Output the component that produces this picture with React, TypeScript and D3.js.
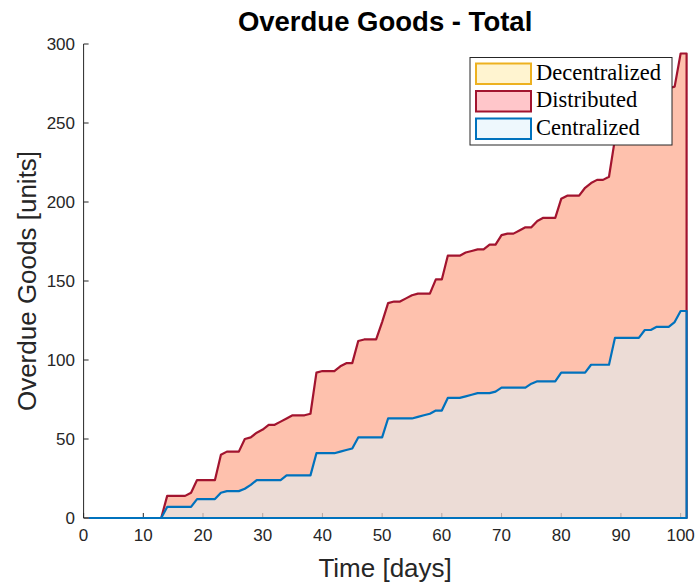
import React from "react";
import * as d3 from "d3";

// Values per day (day 1 .. 101)
const distributed: number[] = [
  0, 0, 0, 0, 0, 0, 0, 0, 0, 0, 0, 0, 0, 14, 14, 14, 14, 16, 24, 24,
  24, 24, 40, 42, 42, 42, 50, 51, 54, 56, 59, 59, 61, 63, 65, 65, 65, 66, 92, 93,
  93, 93, 96, 98, 98, 112, 113, 113, 113, 124, 136, 137, 137, 139, 141, 142, 142, 142, 151, 151,
  166, 166, 166, 168, 169, 170, 170, 173, 173, 179, 180, 180, 182, 184, 184, 188, 190, 190, 190, 202,
  204, 204, 204, 209, 212, 214, 214, 216, 240, 247, 252, 255, 258, 261, 264, 267, 270, 272, 273, 294,
  294,
];
const centralized: number[] = [
  0, 0, 0, 0, 0, 0, 0, 0, 0, 0, 0, 0, 0, 7, 7, 7, 7, 7, 12, 12,
  12, 12, 16, 17, 17, 17, 18.5, 21, 24, 24, 24, 24, 24, 27, 27, 27, 27, 27, 41, 41,
  41, 41, 42, 43, 44, 51, 51, 51, 51, 51, 63, 63, 63, 63, 63, 64, 65, 66, 68, 68,
  76, 76, 76, 77, 78, 79, 79, 79, 80, 82.5, 82.5, 82.5, 82.5, 82.5, 85, 86.5, 86.5, 86.5, 86.5, 92,
  92, 92, 92, 92, 97, 97, 97, 97, 114, 114, 114, 114, 114, 119, 119, 121, 121, 121, 124, 131,
  131,
];
const days: number[] = distributed.map((_, i) => i + 1);

const xTicks = [0, 10, 20, 30, 40, 50, 60, 70, 80, 90, 100];
const yTicks = [0, 50, 100, 150, 200, 250, 300];
const legendItems = [
  { label: "Decentralized", edge: "#EDB120", fill: "#FFF4D0" },
  { label: "Distributed", edge: "#A2142F", fill: "#FFC6CA" },
  { label: "Centralized", edge: "#0072BD", fill: "#EEF8FD" },
];

const W = 696;
const H = 583;
const axisColor = "#262626";
const sans = "'Liberation Sans', Arial, Helvetica, sans-serif";

export default function App() {
  const x = d3.scaleLinear().domain([0, 101]).range([83.6, 686.6]);
  const y = d3.scaleLinear().domain([0, 300]).range([518, 44]);

  const pts = (vals: number[]) => days.map((d, i) => [d, vals[i]] as [number, number]);

  const area = d3
    .area<[number, number]>()
    .x((p) => x(p[0]))
    .y0(() => y(0))
    .y1((p) => y(p[1]));

  const outline = (vals: number[]) => {
    const p = pts(vals);
    const ring: [number, number][] = [...p, [days[days.length - 1], 0], [days[0], 0]];
    return (
      d3
        .line<[number, number]>()
        .x((q) => x(q[0]))
        .y((q) => y(q[1]))(ring) + "Z"
    );
  };

  const tickLen = 5;

  return (
    <svg
      width={W}
      height={H}
      style={{ position: "absolute", left: 0, top: 0, background: "#fff" }}
      xmlns="http://www.w3.org/2000/svg"
    >
      <rect x={0} y={0} width={W} height={H} fill="#ffffff" />
      {/* axes (drawn below fills) */}
      <g stroke={axisColor} strokeWidth={1} fill="none">
        <line x1={x(0)} y1={y(0)} x2={x(0)} y2={y(300)} />
        <line x1={x(0)} y1={y(0)} x2={x(101)} y2={y(0)} />
        {xTicks.map((t) => (
          <line key={"xt" + t} x1={x(t)} x2={x(t)} y1={y(0)} y2={y(0) - tickLen} />
        ))}
        {yTicks.map((t) => (
          <line key={"yt" + t} x1={x(0)} x2={x(0) + tickLen} y1={y(t)} y2={y(t)} />
        ))}
      </g>

      {/* areas */}
      <path d={area(pts(distributed)) || ""} fill="#FD835B" fillOpacity={0.5} />
      <path
        d={outline(distributed)}
        fill="none"
        stroke="#A2142F"
        strokeWidth={2.2}
        strokeLinejoin="round"
      />
      <path d={area(pts(centralized)) || ""} fill="#DAF7FF" fillOpacity={0.5} />
      <path
        d={outline(centralized)}
        fill="none"
        stroke="#0072BD"
        strokeWidth={2.2}
        strokeLinejoin="round"
      />

      {/* tick labels */}
      <g fontFamily={sans} fontSize={17} fill={axisColor}>
        {xTicks.map((t) => (
          <text key={"xl" + t} x={x(t)} y={541} textAnchor="middle">
            {t}
          </text>
        ))}
        {yTicks.map((t) => (
          <text key={"yl" + t} x={75} y={y(t) + 6} textAnchor="end">
            {t}
          </text>
        ))}
      </g>

      {/* axis labels */}
      <text
        x={(x(0) + x(101)) / 2}
        y={577}
        textAnchor="middle"
        fontFamily={sans}
        fontSize={26}
        fill={axisColor}
      >
        Time [days]
      </text>
      <text
        transform={`translate(36, ${(y(0) + y(300)) / 2}) rotate(-90)`}
        textAnchor="middle"
        fontFamily={sans}
        fontSize={26}
        fill={axisColor}
      >
        Overdue Goods [units]
      </text>

      {/* title */}
      <text
        x={(x(0) + x(101)) / 2}
        y={31}
        textAnchor="middle"
        fontFamily={sans}
        fontSize={27.5}
        fontWeight="bold"
        fill="#000"
      >
        Overdue Goods - Total
      </text>

      {/* legend */}
      <g>
        <rect x={470} y={57.5} width={202} height={87.5} fill="#ffffff" stroke={axisColor} strokeWidth={1} />
        {legendItems.map((it, i) => (
          <g key={it.label}>
            <rect
              x={476}
              y={63.5 + i * 27.5}
              width={55}
              height={20.5}
              fill={it.fill}
              stroke={it.edge}
              strokeWidth={2}
            />
            <text
              x={536}
              y={79.5 + i * 27.5}
              fontFamily="'Liberation Serif', 'Times New Roman', serif"
              fontSize={22.5}
              fill="#000"
            >
              {it.label}
            </text>
          </g>
        ))}
      </g>
    </svg>
  );
}
